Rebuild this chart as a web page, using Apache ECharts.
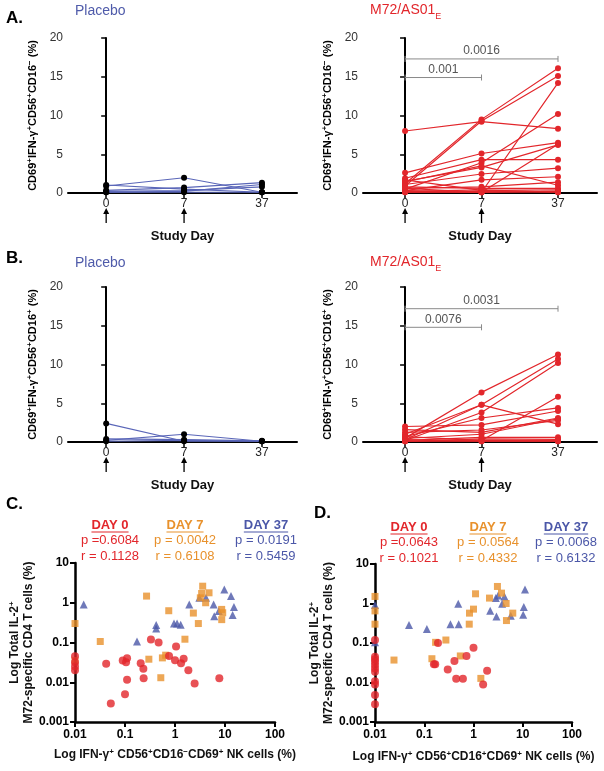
<!DOCTYPE html>
<html><head><meta charset="utf-8">
<script src="https://cdn.jsdelivr.net/npm/echarts@6/dist/echarts.min.js"></script>
<style>html,body{margin:0;padding:0;background:#fff}#c{width:604px;height:771px}</style>
</head><body><div id="c"></div>
<script>
// ---------- DATA ----------
const dayLabels = ['0', '7', '37'];
const arrowDays = [0, 1]; // indices of days with vaccination arrows
const logTickLabelsX = ['0.01', '0.1', '1', '10', '100'];
const logTickLabelsY = ['0.001', '0.01', '0.1', '1', '10'];

// Panel A: CD69+IFN-g+CD56+CD16- (%), per subject values at day 0, 7, 37
const aPlacebo = [
  [0.9, 1.97, 0.1],
  [1.03, 0.5, 0.1],
  [0.35, 0.7, 1.33],
  [0.1, 0.2, 1.1],
  [0.2, 0.3, 0.8],
  [0.1, 0.1, 0.1]
];
const aM72 = [
  [1.2, 9.5, 16.1],
  [0.9, 9.3, 15.1],
  [8.0, 9.2, 8.3],
  [0.2, 0.1, 14.2],
  [0.5, 3.9, 10.2],
  [2.6, 5.1, 6.5],
  [1.5, 3.3, 6.2],
  [0.1, 0.1, 6.3],
  [1.9, 4.3, 4.3],
  [1.1, 2.45, 3.2],
  [0.3, 1.7, 2.1],
  [0.6, 0.8, 1.4],
  [1.45, 3.5, 1.0],
  [0.8, 0.6, 0.6],
  [1.7, 0.35, 0.4],
  [0.3, 0.1, 0.2],
  [0.1, 0.2, 0.1],
  [0.6, 0.1, 0.2],
  [0.2, 0.4, 0.1]
];
const aBrackets = [[0, 1, 14.9, '0.001'], [0, 2, 17.3, '0.0016']];

// Panel B: CD69+IFN-g+CD56+CD16+ (%)
const bPlacebo = [
  [2.4, 0.1, 0.1],
  [0.2, 1.0, 0.1],
  [0.4, 0.3, 0.15],
  [0.1, 0.2, 0.1]
];
const bM72 = [
  [0.5, 6.4, 11.3],
  [0.3, 4.8, 10.7],
  [0.2, 3.8, 10.2],
  [0.1, 0.2, 5.85],
  [1.0, 4.8, 2.3],
  [0.7, 3.1, 4.4],
  [2.0, 2.2, 4.0],
  [1.6, 1.25, 3.1],
  [1.25, 1.55, 2.8],
  [0.45, 1.0, 3.0],
  [0.2, 0.6, 0.6],
  [0.1, 0.4, 0.35],
  [0.7, 0.2, 0.2],
  [0.3, 0.1, 0.1],
  [0.1, 0.1, 0.1]
];
const bBrackets = [[0, 1, 14.8, '0.0076'], [0, 2, 17.2, '0.0031']];

// Panel C: x = IFN-g+ CD56+CD16-CD69+ NK (%), y = IL-2+ CD4 T (%)
const cDay0 = [[0.01,0.045],[0.01,0.032],[0.01,0.025],[0.01,0.02],[0.042,0.029],[0.052,0.0029],[0.09,0.035],[0.11,0.040],[0.105,0.032],[0.11,0.0115],[0.10,0.005],[0.206,0.030],[0.233,0.022],[0.236,0.0126],[0.33,0.119],[0.47,0.10],[0.76,0.046],[1.05,0.079],[1.0,0.036],[1.32,0.030],[1.49,0.039],[1.85,0.020],[2.47,0.0093],[7.7,0.0126]];
const cDay7 = [[0.01,0.30],[0.01,0.035],[0.032,0.106],[0.27,1.47],[0.30,0.038],[0.52,0.013],[0.56,0.041],[0.65,0.048],[0.75,0.63],[1.58,0.121],[2.33,0.55],[2.93,0.30],[3.58,2.61],[3.21,1.33],[3.41,1.71],[4.79,1.78],[4.1,1.0],[8.58,0.68],[9.0,0.56],[8.6,0.376]];
const cDay37 = [[0.0149,0.91],[0.174,0.106],[0.42,0.277],[0.42,0.224],[0.955,0.30],[1.1,0.30],[1.3,0.28],[1.93,0.91],[3.07,1.33],[4.17,1.33],[5.93,0.91],[6.1,0.46],[7.5,0.62],[9.7,2.15],[13.2,1.47],[15.1,0.78],[14.2,0.49]];
const cTitles = ['DAY 0', 'DAY 7', 'DAY 37'];
const cP = ['p =0.6084', 'p = 0.0042', 'p = 0.0191'];
const cR = ['r = 0.1128', 'r = 0.6108', 'r = 0.5459'];

// Panel D: x = IFN-g+ CD56+CD16+CD69+ NK (%)
const dDay0 = [[0.01,0.119],[0.01,0.045],[0.01,0.039],[0.01,0.0335],[0.01,0.0276],[0.01,0.0227],[0.01,0.0187],[0.01,0.0108],[0.01,0.0089],[0.01,0.0048],[0.01,0.0028],[0.19,0.10],[0.157,0.029],[0.167,0.029],[0.30,0.0214],[0.41,0.035],[0.445,0.0124],[0.61,0.0124],[0.72,0.047],[1.0,0.076],[1.89,0.0198],[1.57,0.0089]];
const dDay7 = [[0.01,1.51],[0.01,0.65],[0.01,0.30],[0.0243,0.037],[0.143,0.04],[0.17,0.104],[0.275,0.119],[0.54,0.047],[0.82,0.30],[0.83,0.57],[1.0,0.72],[1.1,1.76],[1.41,0.0127],[2.11,1.37],[3.06,2.7],[3.7,1.83],[4.6,1.0],[4.67,0.37],[6.27,0.57]];
const dDay37 = [[0.01,0.92],[0.01,0.104],[0.049,0.287],[0.113,0.227],[0.34,0.30],[0.49,0.98],[0.50,0.30],[2.18,0.66],[2.84,1.37],[2.92,0.47],[3.16,1.6],[3.81,0.98],[4.25,1.51],[5.7,0.49],[10.2,0.52],[10.5,0.81],[11.1,2.27]];
const dTitles = ['DAY 0', 'DAY 7', 'DAY 37'];
const dP = ['p =0.0643', 'p = 0.0564', 'p = 0.0068'];
const dR = ['r = 0.1021', 'r = 0.4332', 'r = 0.6132'];

// ---------- STYLE ----------
const FONT = '"Liberation Sans", Arial, Helvetica, sans-serif';
const RED = '#E2262B', ORANGE = '#E8912C', BLUE = '#4B57A8', LBLUE = '#5A66B8';

function sup(s) {
  return s.split('\n').map(line => line.split(/(\^[+\-])/).filter(x => x).map(t =>
    t[0] === '^' ? '{s|' + (t[1] === '-' ? '−' : '+') + '}' : '{m|' + t + '}').join('')).join('\n');
}
const supRich = {
  m: {fontSize: 11, fontWeight: 'bold', color: '#000', fontFamily: FONT, lineHeight: 14},
  s: {fontSize: 8, fontWeight: 'bold', color: '#000', fontFamily: FONT, lineHeight: 8, verticalAlign: 'top'}
};
const supRich12 = {
  m: {fontSize: 12, fontWeight: 'bold', color: '#111', fontFamily: FONT, lineHeight: 14},
  s: {fontSize: 8, fontWeight: 'bold', color: '#111', fontFamily: FONT, lineHeight: 8, verticalAlign: 'top'}
};

const lineGrids = [
  {left: 68, top: 38, width: 229, height: 155, xmin: -0.49, xmax: 2.45},
  {left: 363, top: 38, width: 234, height: 155, xmin: -0.55, xmax: 2.51},
  {left: 68, top: 287, width: 229, height: 155, xmin: -0.49, xmax: 2.45},
  {left: 363, top: 287, width: 234, height: 155, xmin: -0.55, xmax: 2.51}
];
const yNames = ['CD69^+IFN-γ^+CD56^+CD16^- (%)', 'CD69^+IFN-γ^+CD56^+CD16^- (%)',
                'CD69^+IFN-γ^+CD56^+CD16^+ (%)', 'CD69^+IFN-γ^+CD56^+CD16^+ (%)'];

const grid = lineGrids.map(g => ({left: g.left, top: g.top, width: g.width, height: g.height}))
  .concat([{left: 75, top: 563, width: 200, height: 159}, {left: 375, top: 564, width: 197, height: 158}]);

const xAxis = lineGrids.map((g, i) => ({
  type: 'value', gridIndex: i, min: g.xmin, max: g.xmax,
  axisLine: {show: true, onZero: false, lineStyle: {color: '#000', width: 2}},
  axisTick: {show: true, customValues: [0, 1, 2], length: 5, lineStyle: {color: '#000', width: 1.5}},
  axisLabel: {customValues: [0, 1, 2], formatter: v => dayLabels[Math.round(v)], color: '#222', fontSize: 12, fontFamily: FONT, margin: 5},
  splitLine: {show: false},
  name: 'Study Day', nameLocation: 'middle', nameGap: 37,
  nameTextStyle: {fontSize: 13, fontWeight: 'bold', color: '#111', fontFamily: FONT}
})).concat([4, 5].map(i => ({
  type: 'log', logBase: 10, gridIndex: i, min: 0.01, max: 100,
  axisLine: {show: true, onZero: false, lineStyle: {color: '#000', width: 2.5}},
  axisTick: {show: true, length: 5, lineStyle: {color: '#000', width: 2}},
  minorTick: {show: false}, splitLine: {show: false},
  axisLabel: {formatter: v => logTickLabelsX[Math.round(Math.log10(v)) + 2], fontSize: 12, fontWeight: 'bold', color: '#000', fontFamily: FONT, margin: 7},
  name: sup(i === 4 ? 'Log IFN-γ^+ CD56^+CD16^-CD69^+ NK cells (%)' : 'Log IFN-γ^+ CD56^+CD16^+CD69^+ NK cells (%)'),
  nameLocation: 'middle', nameGap: i === 4 ? 26 : 28,
  nameTextStyle: {rich: supRich12}
})));

const yAxis = lineGrids.map((g, i) => ({
  type: 'value', gridIndex: i, min: 0, max: 20, interval: 5,
  axisLine: {show: true, lineStyle: {color: '#000', width: 2}},
  axisTick: {show: true, length: 5, lineStyle: {color: '#000', width: 1.5}},
  axisLabel: {color: '#333', fontSize: 12, fontFamily: FONT, margin: 5},
  splitLine: {show: false},
  name: sup(yNames[i]), nameLocation: 'middle', nameGap: 28,
  nameTextStyle: {rich: supRich}
})).concat([4, 5].map(i => ({
  type: 'log', logBase: 10, gridIndex: i, min: 0.001, max: 10,
  axisLine: {show: true, lineStyle: {color: '#000', width: 2.5}},
  axisTick: {show: true, length: 5, lineStyle: {color: '#000', width: 2}},
  minorTick: {show: false}, splitLine: {show: false},
  axisLabel: {formatter: v => logTickLabelsY[Math.round(Math.log10(v)) + 3], fontSize: 12, fontWeight: 'bold', color: '#000', fontFamily: FONT, margin: 6},
  name: sup('Log Total IL-2^+\nM72-specific CD4 T cells (%)'), nameLocation: 'middle', nameGap: 35,
  nameTextStyle: {rich: supRich12}
})));

function subjectSeries(rows, gi, lineColor, dotColor) {
  return rows.map(r => ({
    type: 'line', xAxisIndex: gi, yAxisIndex: gi,
    data: r.map((v, i) => [i, v]),
    symbol: 'circle', symbolSize: 6, showSymbol: true,
    lineStyle: {color: lineColor, width: 1.2}, itemStyle: {color: dotColor},
    silent: true, clip: false, animation: false
  }));
}
function bracketSeries(br, gi) {
  return {
    type: 'custom', xAxisIndex: gi, yAxisIndex: gi, clip: false, silent: true,
    data: br.map(b => [b[0], b[1], b[2]]),
    renderItem: (params, api) => {
      const p1 = api.coord([api.value(0), api.value(2)]);
      const p2 = api.coord([api.value(1), api.value(2)]);
      const st = {stroke: '#8a8a8a', lineWidth: 1};
      return {type: 'group', children: [
        {type: 'line', shape: {x1: p1[0], y1: p1[1], x2: p2[0], y2: p2[1]}, style: st},
        {type: 'line', shape: {x1: p1[0], y1: p1[1] - 3, x2: p1[0], y2: p1[1] + 3}, style: st},
        {type: 'line', shape: {x1: p2[0], y1: p2[1] - 3, x2: p2[0], y2: p2[1] + 3}, style: st},
        {type: 'text', x: (p1[0] + p2[0]) / 2, y: p1[1] - 2,
         style: {text: br[params.dataIndex][3], fill: '#555', font: '12px ' + FONT, align: 'center', verticalAlign: 'bottom', textAlign: 'center', textVerticalAlign: 'bottom'}}
      ]};
    }
  };
}
function scat(data, gi, symbol, color, size) {
  return {type: 'scatter', xAxisIndex: gi, yAxisIndex: gi, data: data, symbol: symbol,
    symbolSize: size, itemStyle: {color: color}, clip: false, silent: true, animation: false};
}

const series = []
  .concat(subjectSeries(aPlacebo, 0, LBLUE, '#000'))
  .concat(subjectSeries(aM72, 1, RED, RED))
  .concat(subjectSeries(bPlacebo, 2, LBLUE, '#000'))
  .concat(subjectSeries(bM72, 3, RED, RED))
  .concat([bracketSeries(aBrackets, 1), bracketSeries(bBrackets, 3)])
  .concat([scat(cDay37, 4, 'triangle', BLUE, 8), scat(cDay7, 4, 'rect', ORANGE, 7), scat(cDay0, 4, 'circle', RED, 8)])
  .concat([scat(dDay37, 5, 'triangle', BLUE, 8), scat(dDay7, 5, 'rect', ORANGE, 7), scat(dDay0, 5, 'circle', RED, 8)]);

const chart = echarts.init(document.getElementById('c'), null, {renderer: 'canvas'});
chart.setOption({animation: false, backgroundColor: '#fff', grid, xAxis, yAxis, series});

// ---------- ANNOTATIONS ----------
const g = [];
function txt(x, y, text, font, fill, align, rich) {
  const st = {text, font, fill, align: align || 'left', verticalAlign: 'middle', textAlign: align || 'left', textVerticalAlign: 'middle'};
  if (rich) st.rich = rich;
  g.push({type: 'text', x, y, style: st, silent: true});
}
const titleRich = {
  m: {fontSize: 14, color: RED, fontFamily: FONT, lineHeight: 18, verticalAlign: 'top'},
  e: {fontSize: 9, color: RED, fontFamily: FONT, lineHeight: 9, verticalAlign: 'bottom'}
};
txt(6, 18, 'A.', 'bold 17px ' + FONT, '#000');
txt(6, 258, 'B.', 'bold 17px ' + FONT, '#000');
txt(6, 504, 'C.', 'bold 17px ' + FONT, '#000');
txt(314, 513, 'D.', 'bold 17px ' + FONT, '#000');
txt(75, 11, 'Placebo', '14px ' + FONT, '#4F5BAA');
txt(75, 263, 'Placebo', '14px ' + FONT, '#4F5BAA');
txt(370, 12, '{m|M72/AS01}{e|E}', '14px ' + FONT, RED, 'left', titleRich);
txt(370, 264, '{m|M72/AS01}{e|E}', '14px ' + FONT, RED, 'left', titleRich);

// arrows under vaccination days
[0, 1, 2, 3].forEach(gi => {
  const y0 = chart.convertToPixel({yAxisIndex: gi}, 0);
  arrowDays.forEach(d => {
    const x = chart.convertToPixel({xAxisIndex: gi}, d);
    const top = y0 + 15;
    g.push({type: 'polygon', shape: {points: [[x, top], [x - 3, top + 6], [x + 3, top + 6]]}, style: {fill: '#000'}, silent: true});
    g.push({type: 'line', shape: {x1: x, y1: top + 5, x2: x, y2: top + 15}, style: {stroke: '#000', lineWidth: 1.3}, silent: true});
  });
});

// stats headers
const mctx = document.createElement('canvas').getContext('2d');
function statBlock(titles, ps, rs, cxs, ys) {
  const cols = [RED, ORANGE, BLUE];
  titles.forEach((t, i) => {
    const f = 'bold 13px ' + FONT;
    txt(cxs[i], ys[0], t, f, cols[i], 'center');
    mctx.font = f;
    const w = mctx.measureText(t).width;
    g.push({type: 'line', shape: {x1: cxs[i] - w / 2, y1: ys[0] + 7, x2: cxs[i] + w / 2, y2: ys[0] + 7}, style: {stroke: cols[i], lineWidth: 1.2}, silent: true});
    txt(cxs[i], ys[1], ps[i], '13px ' + FONT, cols[i], 'center');
    txt(cxs[i], ys[2], rs[i], '13px ' + FONT, cols[i], 'center');
  });
}
statBlock(cTitles, cP, cR, [110, 185, 266], [525, 540, 556]);
statBlock(dTitles, dP, dR, [409, 488, 566], [527, 542, 558]);

chart.setOption({graphic: g});
</script>
</body></html>
